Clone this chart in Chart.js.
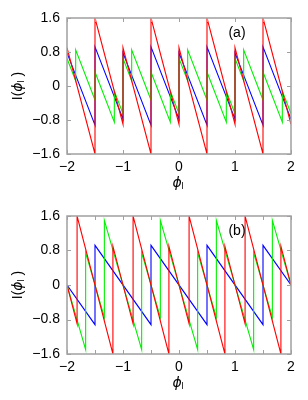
<!DOCTYPE html>
<html>
<head>
<meta charset="utf-8">
<script src="https://cdn.jsdelivr.net/npm/chart.js@4/dist/chart.umd.min.js"></script>
<style>
  body { margin: 0; background: #fff; }
  canvas { display: block; }
</style>
</head>
<body>
<canvas id="panelA" width="308" height="200"></canvas>
<canvas id="panelB" width="308" height="200"></canvas>
<script>
// panel (a) vertices
const redAx = [-2, -1.5, -1.5, -1, -1, -0.5, -0.5, 0, 0, 0.5, 0.5, 1, 1, 1.5, 1.5, 2];
const redAy = [0.9, -1.6, 1.6, -0.9, 0.9, -1.6, 1.6, -0.9, 0.9, -1.6, 1.6, -0.9, 0.9, -1.6, 1.6, -0.9];
const blueAx = [-2, -1.5, -1.5, -1, -1, -0.5, -0.5, 0, 0, 0.5, 0.5, 1, 1, 1.5, 1.5, 2];
const blueAy = [0.78, -0.92, 0.92, -0.78, 0.78, -0.92, 0.92, -0.78, 0.78, -0.92, 0.92, -0.78, 0.78, -0.92, 0.92, -0.78];
const greenAx = [-2, -1.845, -1.845, -1.5, -1.5, -1.155, -1.155, -1, -1, -0.845, -0.845, -0.5, -0.5, -0.155, -0.155, 0,
                 0, 0.155, 0.155, 0.5, 0.5, 0.845, 0.845, 1, 1, 1.155, 1.155, 1.5, 1.5, 1.845, 1.845, 2];
const greenAy = [0.65, 0.12, 0.85, -0.33, 0.33, -0.85, -0.12, -0.65, 0.65, 0.12, 0.85, -0.33, 0.33, -0.85, -0.12, -0.65,
                 0.65, 0.12, 0.85, -0.33, 0.33, -0.85, -0.12, -0.65, 0.65, 0.12, 0.85, -0.33, 0.33, -0.85, -0.12, -0.65];

// panel (b) vertices
const redBx = [-2, -1.82, -1.82, -1.18, -1.18, -0.82, -0.82, -0.18, -0.18, 0.18, 0.18, 0.82, 0.82, 1.18, 1.18, 1.82, 1.82, 2];
const redBy = [0, -0.9, 1.6, -1.6, 0.9, -0.9, 1.6, -1.6, 0.9, -0.9, 1.6, -1.6, 0.9, -0.9, 1.6, -1.6, 0.9, 0];
const blueBx = [-2, -1.5, -1.5, -0.5, -0.5, 0.5, 0.5, 1.5, 1.5, 2];
const blueBy = [0, -0.92, 0.92, -0.92, 0.92, -0.92, 0.92, -0.92, 0.92, 0];
const greenBx = [-2, -1.667, -1.667, -1.333, -1.333, -0.667, -0.667, -0.333, -0.333, 0.333, 0.333, 0.667, 0.667, 1.333, 1.333, 1.667, 1.667, 2];
const greenBy = [0, -1.5, 0.75, -0.75, 1.5, -1.5, 0.75, -0.75, 1.5, -1.5, 0.75, -0.75, 1.5, -1.5, 0.75, -0.75, 1.5, 0];

const xTickValues = [-2, -1, 0, 1, 2];
const xMinorTicks = [-2, -1.5, -1, -0.5, 0, 0.5, 1, 1.5, 2];
const yTickValues = [-1.6, -0.8, 0, 0.8, 1.6];

const FONT = "'Liberation Sans', Arial, sans-serif";
const MINUS = "\u2212";

function zip(xs, ys) {
    return xs.map((x, i) => ({ x: x, y: ys[i] }));
}

function fmt(v, digits) {
    if (Math.abs(v) < 1e-9) return "0";
    return (v < 0 ? MINUS : "") + Math.abs(v).toFixed(digits);
}

// frame, inward ticks, axis titles and panel tag
const framePlugin = {
    id: "frame",
    afterDraw(chart, args, opts) {
        const ctx = chart.ctx;
        const a = chart.chartArea;
        const xs = chart.scales.x;
        const ys = chart.scales.y;
        ctx.save();
        ctx.strokeStyle = "#a0a0a0";
        ctx.lineWidth = 1.5;
        ctx.strokeRect(a.left, a.top, a.right - a.left, a.bottom - a.top);
        ctx.lineWidth = 1;
        ctx.beginPath();
        xs.ticks.forEach(t => {
            const px = Math.round(xs.getPixelForValue(t.value)) + 0.5;
            ctx.moveTo(px, a.bottom); ctx.lineTo(px, a.bottom - 4);
            ctx.moveTo(px, a.top); ctx.lineTo(px, a.top + 4);
        });
        ys.ticks.forEach(t => {
            const py = Math.round(ys.getPixelForValue(t.value)) + 0.5;
            ctx.moveTo(a.left, py); ctx.lineTo(a.left + 4, py);
            ctx.moveTo(a.right, py); ctx.lineTo(a.right - 4, py);
        });
        ctx.stroke();

        ctx.fillStyle = "#000";
        ctx.textBaseline = "middle";
        // panel tag
        ctx.font = "14px " + FONT;
        ctx.textAlign = "center";
        ctx.fillText(opts.tag, 237, a.top + 15);

        // x title: phi_l
        const cx = xs.getPixelForValue(0);
        const ty = a.bottom + 29;
        ctx.font = "italic 14px 'DejaVu Sans', sans-serif";
        ctx.textAlign = "left";
        const wPhi = ctx.measureText("\u03D5").width;
        ctx.fillText("\u03D5", cx - wPhi / 2 - 2, ty);
        ctx.font = "9px " + FONT;
        ctx.fillText("l", cx + wPhi / 2 - 2, ty + 4);

        // y title: I(phi_l), rotated
        ctx.translate(18, (a.top + a.bottom) / 2);
        ctx.rotate(-Math.PI / 2);
        ctx.font = "14px " + FONT;
        const p1 = "I(";
        const w1 = ctx.measureText(p1).width;
        ctx.font = "italic 14px 'DejaVu Sans', sans-serif";
        const w2 = ctx.measureText("\u03D5").width;
        ctx.font = "9px " + FONT;
        const w3 = ctx.measureText("l").width + 4;
        ctx.font = "14px " + FONT;
        const w4 = ctx.measureText(")").width;
        let x0 = -(w1 + w2 + w3 + w4) / 2;
        ctx.fillText(p1, x0, 0); x0 += w1;
        ctx.font = "italic 14px 'DejaVu Sans', sans-serif";
        ctx.fillText("\u03D5", x0, 0); x0 += w2;
        ctx.font = "9px " + FONT;
        ctx.fillText("l", x0, 4); x0 += w3;
        ctx.font = "14px " + FONT;
        ctx.fillText(")", x0, 0);
        ctx.restore();
    }
};

function line(data, color) {
    return {
        data: data,
        showLine: true,
        borderColor: color,
        borderWidth: 1.1,
        pointRadius: 0,
        tension: 0,
        fill: false
    };
}

function makePanel(id, tag, top, sets) {
    new Chart(document.getElementById(id).getContext("2d"), {
        type: "scatter",
        data: { datasets: sets },
        options: {
            responsive: false,
            animation: false,
            layout: { padding: { top: top, right: 17, left: 0, bottom: 0 } },
            plugins: {
                legend: { display: false },
                tooltip: { enabled: false },
                frame: { tag: tag }
            },
            scales: {
                x: {
                    type: "linear",
                    min: -2,
                    max: 2,
                    afterBuildTicks: s => { s.ticks = xMinorTicks.map(v => ({ value: v })); },
                    afterFit: s => { s.height = 46; },
                    grid: { display: false, drawTicks: false, tickLength: 0 },
                    border: { display: false },
                    ticks: {
                        autoSkip: false,
                        maxRotation: 0,
                        padding: 5,
                        color: "#000",
                        font: { family: FONT, size: 14 },
                        callback: v => xTickValues.includes(v) ? fmt(v, 0) : ""
                    }
                },
                y: {
                    type: "linear",
                    min: -1.6,
                    max: 1.6,
                    afterBuildTicks: s => { s.ticks = yTickValues.map(v => ({ value: v })); },
                    afterFit: s => { s.width = 67; },
                    grid: { display: false, drawTicks: false, tickLength: 0 },
                    border: { display: false },
                    ticks: {
                        padding: 7,
                        color: "#000",
                        font: { family: FONT, size: 14 },
                        callback: v => fmt(v, 1)
                    }
                }
            }
        },
        plugins: [framePlugin]
    });
}

makePanel("panelA", "(a)", 18, [
    line(zip(redAx, redAy), "#ff0000"),
    line(zip(greenAx, greenAy), "#00f000"),
    line(zip(blueAx, blueAy), "#0000ff")
]);

makePanel("panelB", "(b)", 16, [
    line(zip(redBx, redBy), "#ff0000"),
    line(zip(greenBx, greenBy), "#00f000"),
    line(zip(blueBx, blueBy), "#0000ff")
]);
</script>
</body>
</html>
